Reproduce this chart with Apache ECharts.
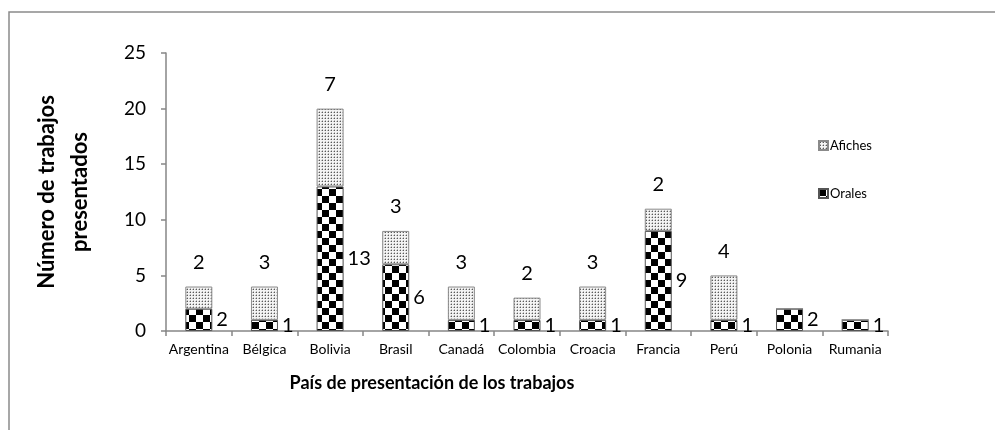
<!DOCTYPE html>
<html>
<head>
<meta charset="utf-8">
<script src="https://cdn.jsdelivr.net/npm/echarts@6/dist/echarts.min.js"></script>
<style>html,body{margin:0;padding:0;background:#fff;}#c{width:995px;height:430px;}</style>
</head>
<body>
<div id="c"></div>
<script>
const categories = ['Argentina','Bélgica','Bolivia','Brasil','Canadá','Colombia','Croacia','Francia','Perú','Polonia','Rumania'];
const orales = [2,1,13,6,1,1,1,9,1,2,1];
const afiches = [2,3,7,3,3,2,3,2,4,0,0];
const yTickValues = [0,5,10,15,20,25];
const seriesNames = ['Afiches','Orales'];
const xTitle = 'País de presentación de los trabajos';
const yTitle = 'Número de trabajos\npresentados';

function checker(){
  const c = document.createElement('canvas'); c.width = 14; c.height = 14;
  const g = c.getContext('2d');
  g.fillStyle = '#fff'; g.fillRect(0,0,14,14);
  g.fillStyle = '#000'; g.fillRect(0,0,7,7); g.fillRect(7,7,7,7);
  return c;
}
function dots(){
  const c = document.createElement('canvas'); c.width = 3; c.height = 3;
  const g = c.getContext('2d');
  g.fillStyle = '#f4f4f4'; g.fillRect(0,0,3,3);
  g.fillStyle = '#5a5a5a'; g.fillRect(1,1,1,1);
  g.fillStyle = '#bdbdbd'; g.fillRect(0,1,1,1); g.fillRect(1,0,1,1);
  return c;
}
const FONT = 'Lato, "Liberation Sans", sans-serif';
const chart = echarts.init(document.getElementById('c'), null, {renderer:'canvas'});
chart.setOption({
  animation:false,
  backgroundColor:'#fff',
  grid:{left:166, right:107, top:53, bottom:99, containLabel:false},
  legend:{
    data:seriesNames, orient:'vertical', left:813, top:134, itemGap:35,
    itemWidth:9, itemHeight:9, icon:'rect',
    textStyle:{fontFamily:FONT, fontSize:13, color:'#000', padding:[0,0,0,-3]}
  },
  xAxis:{
    type:'category', data:categories,
    axisLine:{lineStyle:{color:'#868686', width:1.5}},
    axisTick:{show:true, length:5, lineStyle:{color:'#868686', width:1.5}},
    axisLabel:{fontFamily:FONT, fontSize:14, color:'#000', margin:11, interval:0}
  },
  yAxis:{
    type:'value', min:0, max:25, interval:5,
    name:yTitle, nameLocation:'middle', nameRotate:90, nameGap:70,
    nameTextStyle:{fontFamily:FONT, fontSize:22, fontWeight:'bold', color:'#000', lineHeight:33, align:'center'},
    axisLine:{show:true, lineStyle:{color:'#868686', width:1.5}},
    axisTick:{show:true, length:5, lineStyle:{color:'#868686', width:1.5}},
    splitLine:{show:false},
    axisLabel:{fontFamily:FONT, fontSize:19, color:'#000', margin:20,
      formatter:v=>yTickValues.includes(v)?String(v):''}
  },
  graphic:[
    {type:'rect', shape:{x:9, y:12, width:1000, height:430}, style:{fill:'none', stroke:'#8a8a8a', lineWidth:1.5}, silent:true},
    {type:'text', x:432, y:383, style:{text:xTitle, fontFamily:FONT, fontSize:18, fontWeight:'bold', fill:'#000', align:'center', verticalAlign:'middle'}}
  ],
  series:[
    {
      name:'Orales', type:'bar', stack:'t', barWidth:27, data:orales,
      itemStyle:{color:{image:checker(), repeat:'repeat'}, borderColor:'#555', borderWidth:1},
      label:{show:true, position:'right', distance:4, fontFamily:FONT, fontSize:20, color:'#000'}
    },
    {
      name:'Afiches', type:'bar', stack:'t', barWidth:27, data:afiches,
      itemStyle:{color:{image:dots(), repeat:'repeat'}, borderColor:'#8a8a8a', borderWidth:1},
      label:{show:true, position:'top', distance:14, fontFamily:FONT, fontSize:20, color:'#000',
        formatter:p=>p.value>0?String(p.value):''}
    }
  ]
});
</script>
</body>
</html>
